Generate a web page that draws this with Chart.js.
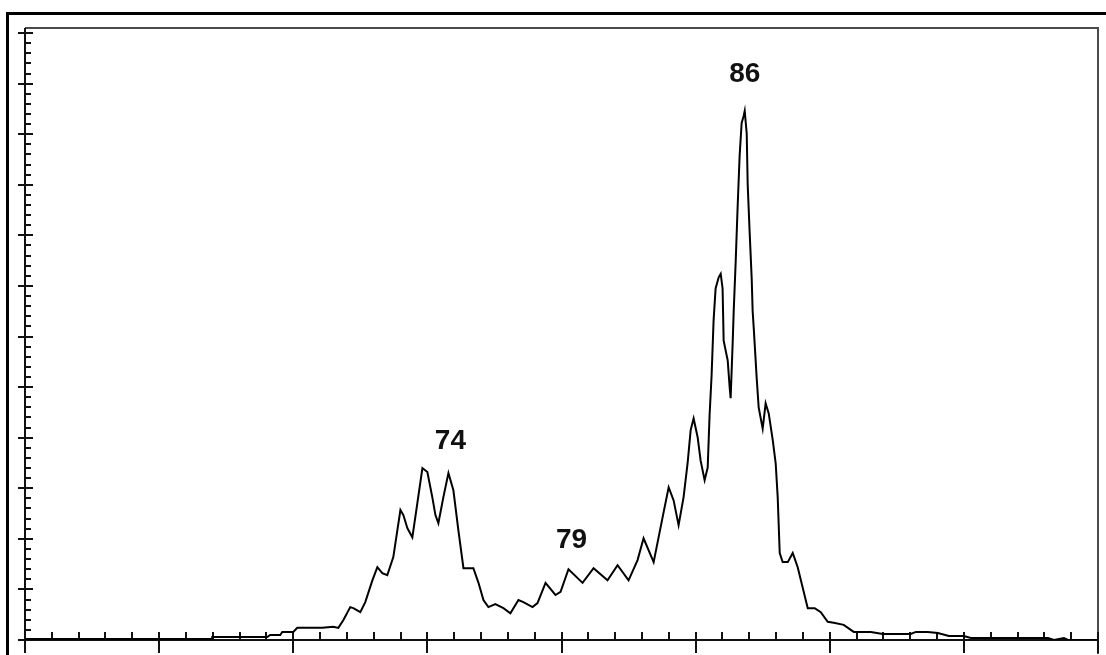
<!DOCTYPE html>
<html>
<head>
<meta charset="utf-8">
<script src="https://cdn.jsdelivr.net/npm/chart.js@4/dist/chart.umd.min.js"></script>
<style>
  html, body { margin: 0; padding: 0; background: #fff; overflow: hidden; }
  #wrap { position: absolute; left: 0; top: 0; width: 1106px; height: 655px; }
</style>
</head>
<body>
<div id="wrap"><canvas id="trace" width="1106" height="655"></canvas></div>
<script>
// trace position (in major x divisions) and signal height (in major y divisions)
const sizeX = [
  0, 1.396, 1.396, 1.806, 1.828, 1.903, 1.918, 2.0, 2.03, 2.216,
  2.299, 2.336, 2.373, 2.425, 2.448, 2.5, 2.537, 2.59, 2.627, 2.664,
  2.701, 2.746, 2.799, 2.821, 2.851, 2.888, 2.925, 2.963, 3.0, 3.037,
  3.06, 3.082, 3.119, 3.157, 3.194, 3.231, 3.269, 3.343, 3.381, 3.418,
  3.455, 3.507, 3.567, 3.619, 3.679, 3.716, 3.784, 3.821, 3.881, 3.955,
  3.993, 4.052, 4.157, 4.239, 4.343, 4.418, 4.5, 4.567, 4.612, 4.687,
  4.754, 4.799, 4.836, 4.873, 4.91, 4.94, 4.963, 4.985, 5.015, 5.037,
  5.067, 5.09, 5.104, 5.119, 5.134, 5.149, 5.172, 5.187, 5.201, 5.209,
  5.239, 5.254, 5.261, 5.276, 5.284, 5.299, 5.313, 5.328, 5.343, 5.358,
  5.366, 5.381, 5.388, 5.403, 5.418, 5.425, 5.433, 5.455, 5.47, 5.5,
  5.522, 5.545, 5.575, 5.597, 5.612, 5.627, 5.649, 5.687, 5.724, 5.761,
  5.799, 5.836, 5.888, 5.933, 5.985, 6.03, 6.104, 6.179, 6.306, 6.396,
  6.604, 6.642, 6.731, 6.806, 6.888, 7.0, 7.052, 7.627, 7.672, 7.746,
  7.776, 8.0
];
const signalY = [
  0.02, 0.02, 0.06, 0.06, 0.10, 0.10, 0.16, 0.16, 0.24, 0.24,
  0.26, 0.24, 0.39, 0.65, 0.63, 0.55, 0.75, 1.18, 1.44, 1.32,
  1.28, 1.64, 2.57, 2.47, 2.21, 2.03, 2.70, 3.40, 3.32, 2.82,
  2.47, 2.31, 2.82, 3.30, 2.96, 2.17, 1.42, 1.42, 1.13, 0.79,
  0.65, 0.71, 0.63, 0.53, 0.79, 0.75, 0.65, 0.73, 1.13, 0.89,
  0.95, 1.40, 1.13, 1.42, 1.18, 1.48, 1.18, 1.58, 2.01, 1.54,
  2.43, 3.02, 2.76, 2.27, 2.82, 3.49, 4.15, 4.38, 4.01, 3.55,
  3.16, 3.41, 4.44, 5.23, 6.32, 6.95, 7.17, 7.24, 6.95, 5.92,
  5.53, 4.99, 4.78, 5.86, 6.51, 7.50, 8.55, 9.57, 10.22, 10.36,
  10.46, 10.01, 9.02, 8.05, 7.15, 6.51, 6.18, 5.19, 4.60, 4.18,
  4.68, 4.48, 3.95, 3.49, 2.82, 1.72, 1.54, 1.54, 1.72, 1.44,
  1.03, 0.63, 0.63, 0.55, 0.36, 0.34, 0.30, 0.16, 0.16, 0.12,
  0.12, 0.16, 0.16, 0.14, 0.08, 0.08, 0.04, 0.04, 0, 0.04,
  0, 0
];

// peak size labels
const peakLabels = ["74", "79", "86"];
const peakX = [3.172, 4.075, 5.366];
const peakY = [3.93, 1.97, 11.19];

// axis divisions
const xMajors = [0, 1, 2, 3, 4, 5, 6, 7, 8];
const yMajors = [0, 1, 2, 3, 4, 5, 6, 7, 8, 9, 10, 11, 12];
const minorStep = 0.2;

const points = sizeX.map((x, i) => ({ x: x, y: signalY[i] }));

const framePlugin = {
  id: "frame",
  beforeDatasetsDraw(chart) {
    const ctx = chart.ctx;
    const xs = chart.scales.x;
    const ys = chart.scales.y;
    const left = xs.getPixelForValue(0);
    const right = xs.getPixelForValue(8);
    const bottom = ys.getPixelForValue(0);
    const top = chart.chartArea.top;

    ctx.save();
    // outer thick border
    ctx.strokeStyle = "#000";
    ctx.lineWidth = 3;
    ctx.beginPath();
    ctx.moveTo(7.5, 660);
    ctx.lineTo(7.5, 13.5);
    ctx.lineTo(1110, 13.5);
    ctx.stroke();

    // top and right frame lines
    ctx.strokeStyle = "#4a4a4a";
    ctx.lineWidth = 2;
    ctx.beginPath();
    ctx.moveTo(left, top);
    ctx.lineTo(right, top);
    ctx.lineTo(right, bottom + 14);
    ctx.stroke();

    // axes
    ctx.strokeStyle = "#111";
    ctx.beginPath();
    ctx.moveTo(left, top);
    ctx.lineTo(left, bottom + 13);
    ctx.moveTo(left, bottom);
    ctx.lineTo(right, bottom);
    ctx.stroke();

    // y ticks
    ctx.beginPath();
    for (let v = 0; v <= 12.001; v += minorStep) {
      const py = Math.round(ys.getPixelForValue(v));
      const isMajor = yMajors.some(m => Math.abs(m - v) < 1e-6);
      if (isMajor) {
        ctx.moveTo(left - 7, py);
        ctx.lineTo(left + 8, py);
      } else {
        ctx.moveTo(left, py);
        ctx.lineTo(left + 6, py);
      }
    }
    // x ticks
    for (let v = 0; v <= 8.001; v += minorStep) {
      const px = Math.round(xs.getPixelForValue(v));
      const isMajor = xMajors.some(m => Math.abs(m - v) < 1e-6);
      if (isMajor) {
        ctx.moveTo(px, bottom - 8);
        ctx.lineTo(px, bottom + 13);
      } else {
        ctx.moveTo(px, bottom - 8);
        ctx.lineTo(px, bottom);
      }
    }
    ctx.stroke();
    ctx.restore();
  },
  afterDatasetsDraw(chart) {
    const ctx = chart.ctx;
    const xs = chart.scales.x;
    const ys = chart.scales.y;
    ctx.save();
    ctx.fillStyle = "#111";
    ctx.font = "bold 28px 'Liberation Sans', Arial, sans-serif";
    ctx.textAlign = "center";
    ctx.textBaseline = "middle";
    peakLabels.forEach((t, i) => {
      ctx.fillText(t, xs.getPixelForValue(peakX[i]), ys.getPixelForValue(peakY[i]));
    });
    ctx.restore();
  }
};

new Chart(document.getElementById("trace"), {
  type: "line",
  data: {
    datasets: [{
      data: points,
      borderColor: "#000",
      borderWidth: 2,
      pointRadius: 0,
      tension: 0,
      fill: false
    }]
  },
  options: {
    responsive: false,
    animation: false,
    layout: { padding: { left: 25, right: 8, top: 28, bottom: 15 } },
    plugins: { legend: { display: false }, tooltip: { enabled: false } },
    scales: {
      x: { type: "linear", min: 0, max: 8, display: false },
      y: { min: 0, max: 12.1, display: false }
    }
  },
  plugins: [framePlugin]
});
</script>
</body>
</html>
